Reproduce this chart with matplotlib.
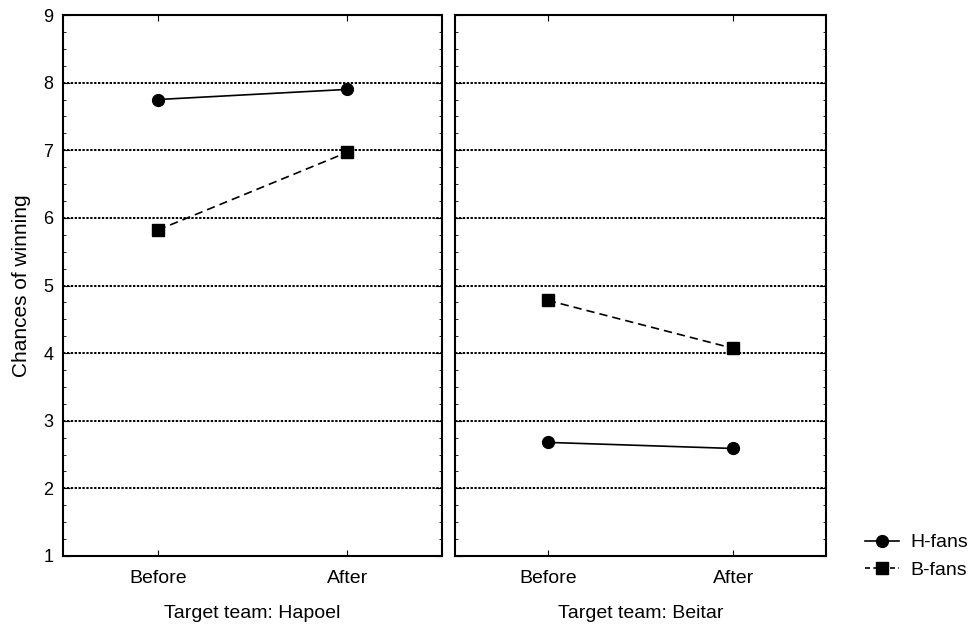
import matplotlib.pyplot as plt
from matplotlib.ticker import MultipleLocator
from matplotlib.lines import Line2D

plt.rcParams['font.family'] = ['Liberation Sans', 'DejaVu Sans']

# Data
times = ['Before', 'After']
panels = ['Target team: Hapoel', 'Target team: Beitar']
h_fans = [[7.75, 7.90], [2.68, 2.59]]
b_fans = [[5.82, 6.97], [4.78, 4.07]]

fig = plt.figure(figsize=(9.72, 6.25), dpi=100)
ax1 = fig.add_axes([0.0648, 0.1104, 0.390, 0.8656])
ax2 = fig.add_axes([0.468, 0.1104, 0.382, 0.8656])

for i, ax in enumerate([ax1, ax2]):
    x = range(len(times))
    ax.plot(x, h_fans[i], color='black', lw=1.2, marker='o', ms=8.5, label='H-fans')
    ax.plot(x, b_fans[i], color='black', lw=1.2, ls=(0, (5, 3)), marker='s', ms=8.5, label='B-fans')
    ax.set_xlim(-0.5, 1.5)
    ax.set_ylim(1, 9)
    ax.set_xticks(list(x))
    ax.set_xticklabels(times, fontsize=14)
    ax.set_xlabel(panels[i], fontsize=14, labelpad=13)
    ax.yaxis.set_major_locator(MultipleLocator(1))
    ax.yaxis.set_minor_locator(MultipleLocator(0.25))
    for gy in range(2, 9):
        ax.axhline(gy, color='black', lw=1.4, ls=(0, (1.2, 0.8)), zorder=0)
    ax.tick_params(axis='both', which='both', direction='in', top=True, right=True)
    ax.tick_params(axis='y', which='major', length=5, labelsize=13, pad=7)
    ax.tick_params(axis='y', which='minor', length=2.5)
    ax.tick_params(axis='x', length=4, pad=10)
    for s in ax.spines.values():
        s.set_linewidth(1.5)

ax1.set_ylabel('Chances of winning', fontsize=15, labelpad=9)
ax2.tick_params(axis='y', labelleft=False)

handles = [Line2D([], [], color='black', lw=1.2, marker='o', ms=8.5),
           Line2D([], [], color='black', lw=1.2, ls=(0, (3, 2)), marker='s', ms=8.5)]
fig.legend(handles, ['H-fans', 'B-fans'], loc='center left',
           bbox_to_anchor=(0.882, 0.110), frameon=False, fontsize=14,
           handlelength=1.75, handletextpad=0.57, labelspacing=0.5,
           borderaxespad=0)

fig.savefig('out.png', dpi=100)
